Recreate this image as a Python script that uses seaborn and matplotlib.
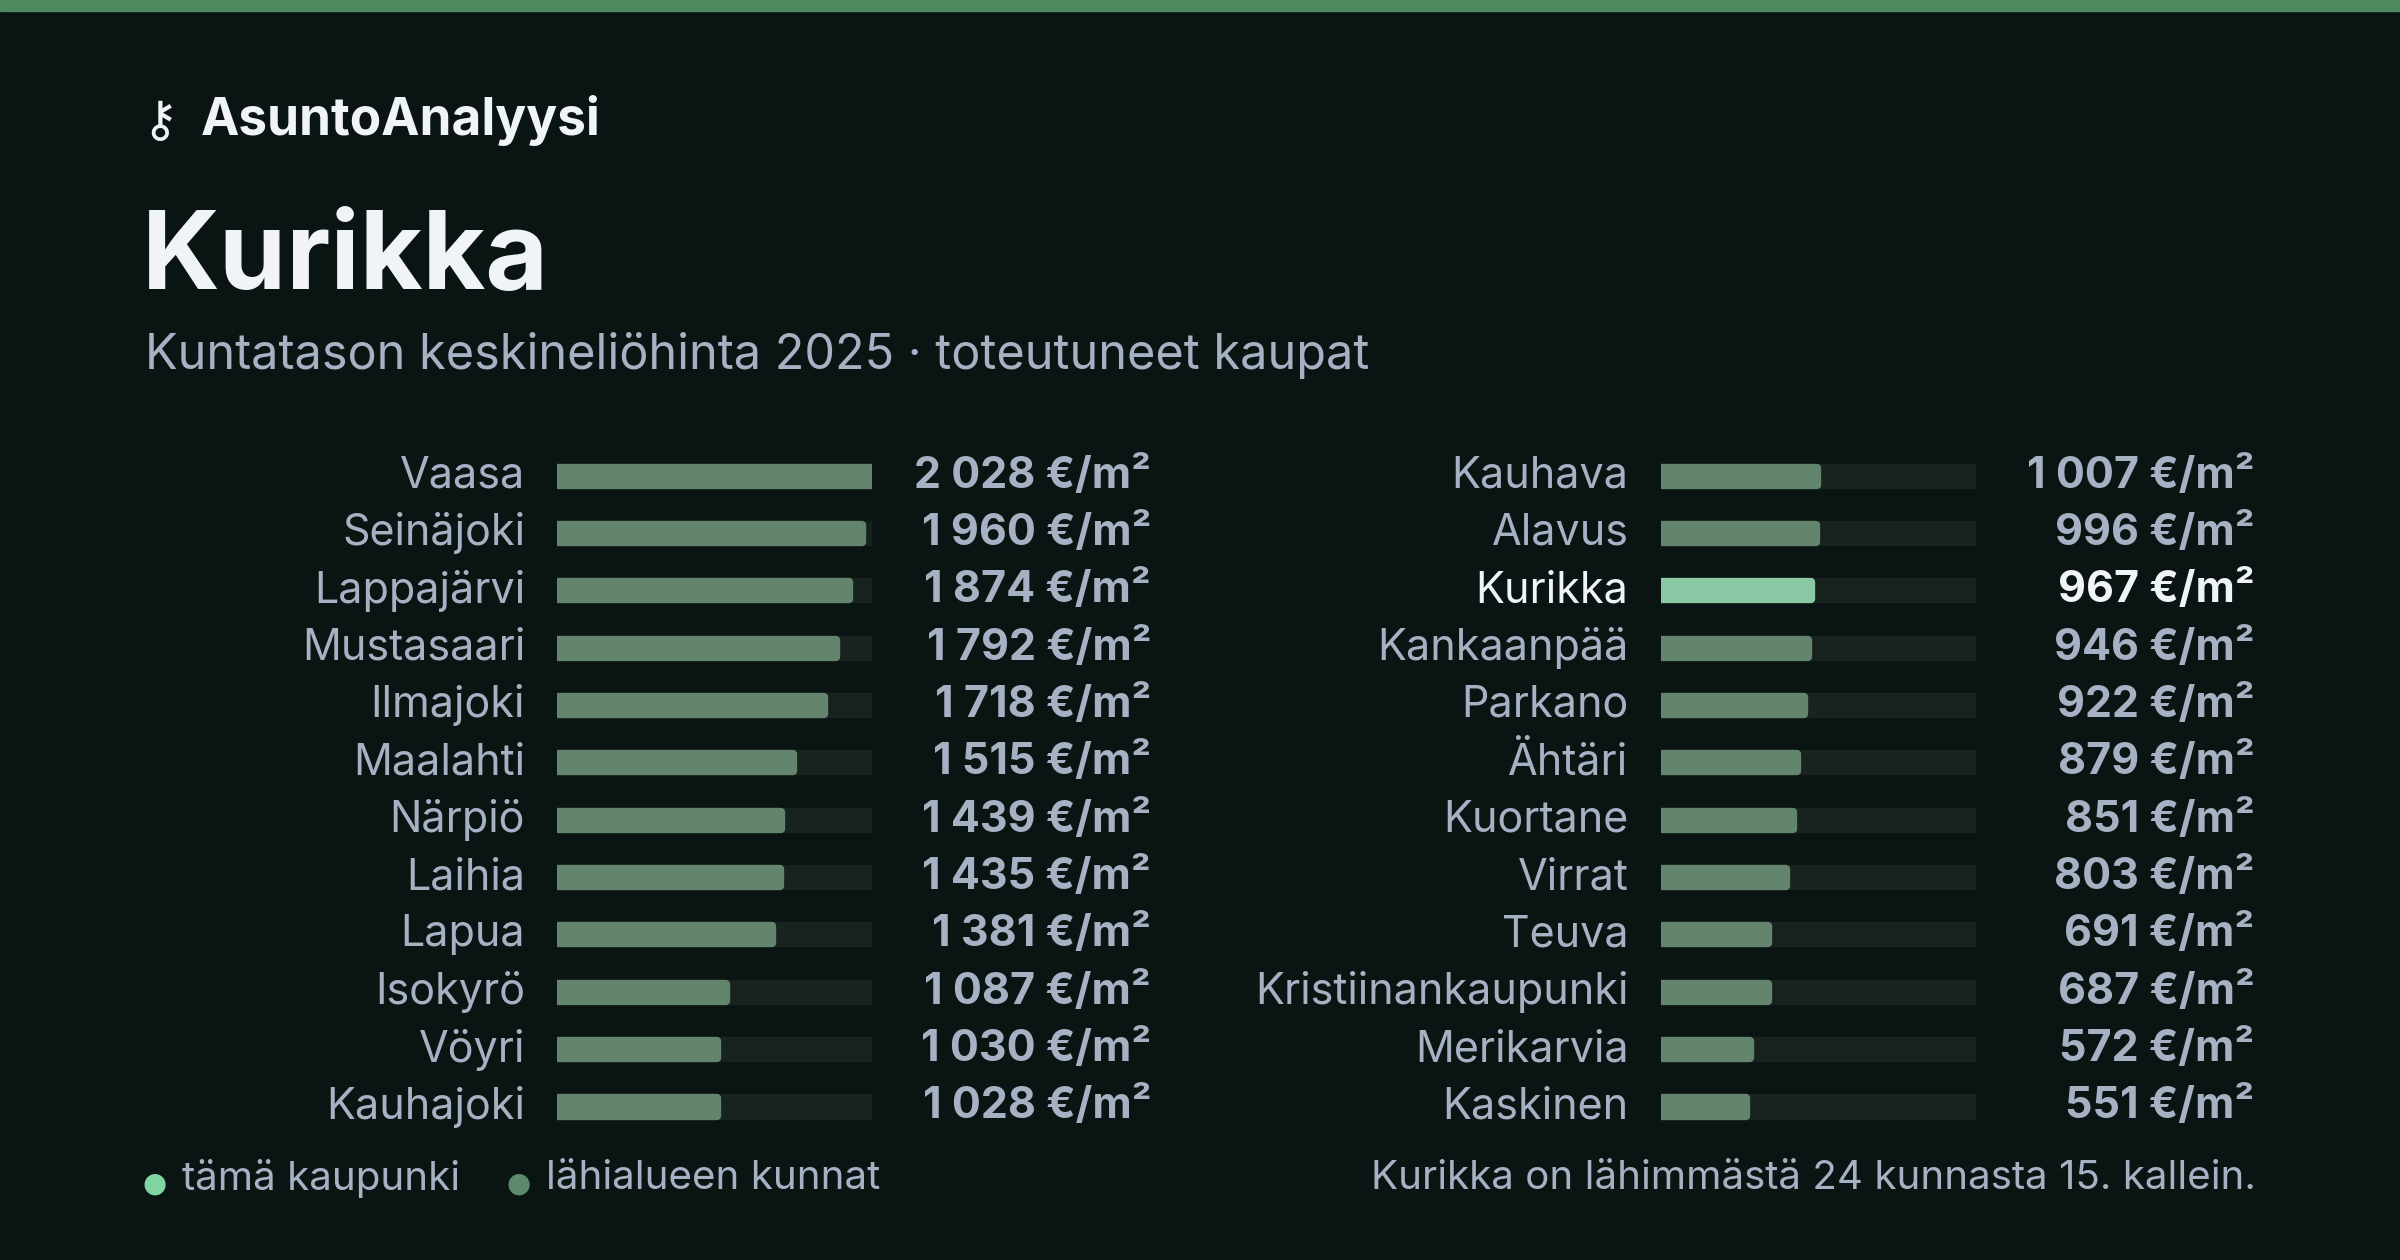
import matplotlib
matplotlib.use("Agg")
import matplotlib.pyplot as plt
import matplotlib.transforms as mtransforms
import seaborn as sns
import pandas as pd

left_names = ["Vaasa", "Seinäjoki", "Lappajärvi", "Mustasaari", "Ilmajoki", "Maalahti",
              "Närpiö", "Laihia", "Lapua", "Isokyrö", "Vöyri", "Kauhajoki"]
left_vals = [2028, 1960, 1874, 1792, 1718, 1515, 1439, 1435, 1381, 1087, 1030, 1028]
right_names = ["Kauhava", "Alavus", "Kurikka", "Kankaanpää", "Parkano", "Ähtäri",
               "Kuortane", "Virrat", "Teuva", "Kristiinankaupunki", "Merikarvia", "Kaskinen"]
right_vals = [1007, 996, 967, 946, 922, 879, 851, 803, 691, 687, 572, 551]
highlight = "Kurikka"

BG = "#0a1412"
TRACK = "#16241e"
BAR = "#5d8a6b"
HI = "#7fd4a2"
TXT = "#a7b1c4"
WHITE = "#f0f3f8"

sns.set_theme(style="white")
plt.rcParams["font.family"] = ["Inter", "DejaVu Sans"]

fig = plt.figure(figsize=(24, 12.6), dpi=100, facecolor=BG)
W, H = 1568, 823
def fx(x): return x / W
def fy(y): return 1 - y / H

fig.patches.append(plt.Rectangle((0, 1 - 7 / H), 1, 7 / H, transform=fig.transFigure,
                                 color="#4f8a5e", zorder=0))

fig.text(fx(104), fy(80), "⚷", color=WHITE, fontsize=36, va="center", ha="center",
         family="DejaVu Sans")
fig.text(fx(131), fy(79), "AsuntoAnalyysi", color=WHITE, fontsize=37, fontweight="bold",
         va="center", ha="left")
fig.text(fx(93), fy(170), "Kurikka", color=WHITE, fontsize=78, fontweight="bold",
         va="center", ha="left")
fig.text(fx(95), fy(232), "Kuntatason keskineliöhinta 2025 · toteutuneet kaupat",
         color=TXT, fontsize=35, va="center", ha="left")

vmax = max(left_vals)
def fmt(v):
    s = f"{v:,}".replace(",", " ")
    return s + " €/m²"

def panel(x0, names, vals):
    ax = fig.add_axes([fx(x0 + 3), fy(741.75), fx(206), 449.5 / H])
    ax.set_facecolor("none")
    df = pd.DataFrame({"name": names, "val": vals, "track": [vmax] * len(vals)})
    sns.barplot(data=df, y="name", x="track", color=TRACK, width=0.3, ax=ax, orient="h")
    colors = [HI if n == highlight else BAR for n in names]
    sns.barplot(data=df, y="name", x="val", hue="name", palette=colors, width=0.3,
                ax=ax, orient="h", legend=False)
    for p in ax.patches:
        p.set_edgecolor(p.get_facecolor())
        p.set_linewidth(6)
        p.set_joinstyle("round")
    ax.set_xlim(0, vmax)
    ax.set_ylim(len(names) - 0.5, -0.5)
    ax.axis("off")
    tr = mtransforms.blended_transform_factory(fig.transFigure, ax.transData)
    for i, (n, v) in enumerate(zip(names, vals)):
        hi = n == highlight
        ax.text(fx(x0 - 18), i, n, transform=tr, ha="right", va="center", fontsize=31,
                color=WHITE if hi else TXT)
        ax.text(fx(x0 + 391), i, fmt(v), transform=tr, ha="right", va="center", fontsize=31,
                fontweight="bold", color=WHITE if hi else TXT)
    return ax

panel(361, left_names, left_vals)
panel(1082, right_names, right_vals)

fig.text(fx(101), fy(773), "●", color=HI, fontsize=20, ha="center", va="center", family="DejaVu Sans")
fig.text(fx(119), fy(770), "tämä kaupunki", color=TXT, fontsize=29, ha="left", va="center")
fig.text(fx(339), fy(773), "●", color=BAR, fontsize=20, ha="center", va="center", family="DejaVu Sans")
fig.text(fx(357), fy(770), "lähialueen kunnat", color=TXT, fontsize=29, ha="left", va="center")
fig.text(fx(1474), fy(770), "Kurikka on lähimmästä 24 kunnasta 15. kallein.", color=TXT,
         fontsize=29, ha="right", va="center")

fig.savefig("out.png", dpi=100, facecolor=BG)
